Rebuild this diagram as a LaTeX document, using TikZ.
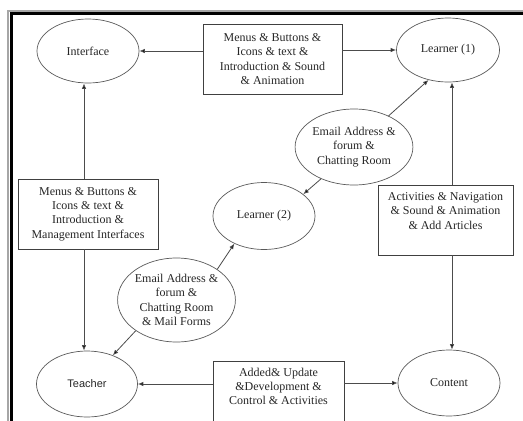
\documentclass[tikz,border=0pt]{standalone}
\usepackage{fontspec}
\setmainfont{Liberation Serif}
\newfontfamily\sansfont{Liberation Sans}
\usetikzlibrary{shapes.geometric,arrows.meta}
\begin{document}
\begin{tikzpicture}[x=1pt,y=-1pt,
  every node/.style={font=\fontsize{12}{14.3}\selectfont, text=black!85},
  oval/.style={ellipse, draw=black!65, line width=0.7pt, inner sep=0pt, align=center},
  infobox/.style={rectangle, draw=black!75, line width=0.7pt, inner sep=0pt, align=center},
  plain/.style={inner sep=0pt, align=center},
  link/.style={draw=black!70, line width=0.8pt, -{Latex[length=5.5pt,width=4.5pt,fill=black]}}
]
\useasboundingbox (0,0) rectangle (523,421);
\clip (0,0) rectangle (523,421);

% page frame (left and top edges)
\draw[black!35, line width=2pt] (8,440) -- (8,10.5) -- (540,10.5);
\draw[black, line width=2.5pt] (11.5,440) -- (11.5,13.5) -- (540,13.5);

% actors
\node[oval, minimum width=102, minimum height=64] (interface) at (88,51) {Interface};
\node[oval, minimum width=103, minimum height=64] (learnerA) at (448,50) {Learner (1)};
\node[oval, minimum width=102, minimum height=67] (learnerB) at (264,216) {Learner (2)};
\node[oval, minimum width=101, minimum height=66] (teacher) at (87,384) {\sansfont\fontsize{11}{13}\selectfont Teacher};
\node[oval, minimum width=102, minimum height=66] (content) at (449,383) {Content};

% communication channels
\node[oval, minimum width=114, minimum height=76] (mailA) at (354,147)
  {Email Address \&\\forum \&\\Chatting Room};
\node[oval, minimum width=113, minimum height=84] (mailB) at (176.5,300)
  {Email Address \&\\forum \&\\Chatting Room\\\& Mail Forms};

% component boxes
\node[infobox, minimum width=139, minimum height=70] (topbox) at (272.5,59)
  {Menus \& Buttons \&\\Icons \& text \&\\Introduction \& Sound\\\& Animation};
\node[infobox, minimum width=140, minimum height=70] (lbox) at (88,214)
  {Menus \& Buttons \&\\Icons \& text \&\\Introduction \&\\Management Interfaces};
\node[infobox, minimum width=135, minimum height=70] (rbox) at (445.5,220) {};
\node[plain] (rtext) at (445.5,211)
  {Activities \& Navigation\\\& Sound \& Animation\\\& Add Articles};
\node[infobox, minimum width=131, minimum height=72] (bbox) at (278.5,397) {};
\node[plain] (btext) at (278.5,386.5)
  {Added\& Update\\\&Development \&\\Control \& Activities};

% vertical lines
\coordinate (lcol) at (84,0);
\coordinate (rcol) at (452,0);

% connectors
\draw[link] (topbox.west |- interface.east) -- (interface.east);
\draw[link] (topbox.east |- learnerA.west) -- (learnerA.west);
\draw[link] (bbox.west |- teacher.east) -- (teacher.east);
\draw[link] (bbox.east |- content.west) -- (content.west);

\draw[link] (lcol |- lbox.north) -- (lcol |- interface.south);
\draw[link] (lcol |- lbox.south) -- (lcol |- teacher.north);
\draw[link] (rcol |- rbox.north) -- (rcol |- learnerA.south);
\draw[link] (rcol |- rbox.south) -- (rcol |- content.north);

\draw[link] (mailA.42) -- (learnerA.237);
\draw[link] (mailA.224) -- (learnerB.29);
\draw[link] (mailB.37) -- (learnerB.223);
\draw[link] (mailB.217) -- (teacher.48);
\end{tikzpicture}
\end{document}
